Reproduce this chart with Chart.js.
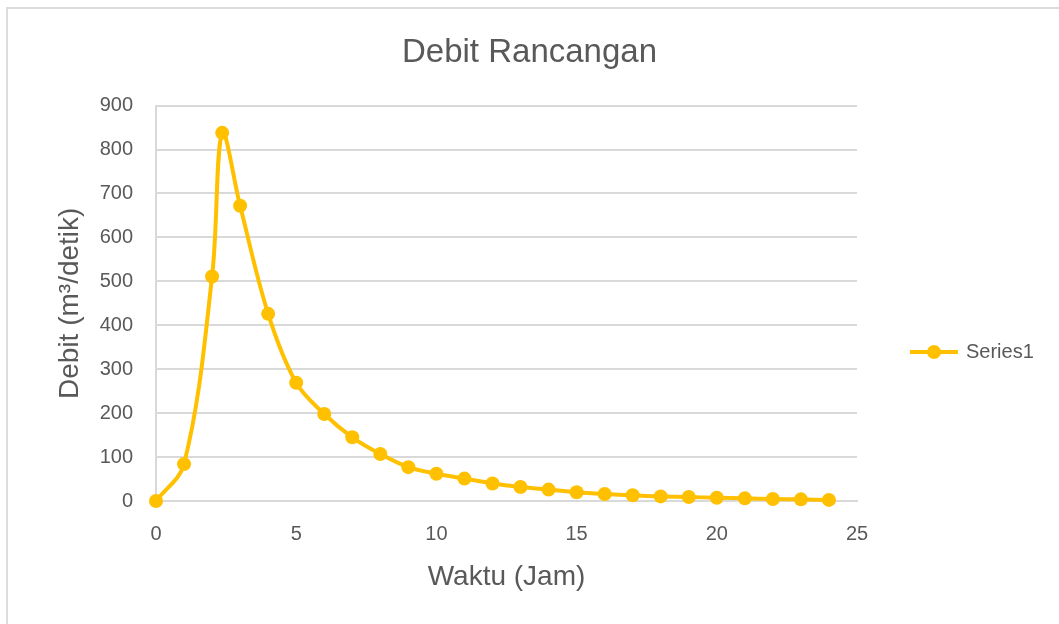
<!DOCTYPE html>
<html>
<head>
<meta charset="utf-8">
<script src="https://cdn.jsdelivr.net/npm/chart.js@4/dist/chart.umd.min.js"></script>
<style>
html,body{margin:0;padding:0;background:#fff;overflow:hidden;}
canvas{display:block;}
</style>
</head>
<body>
<canvas id="c" width="1059" height="624"></canvas>
<script>
// Data
const waktu = [0, 1, 2, 2.36, 3, 4, 5, 6, 7, 8, 9, 10, 11, 12, 13, 14, 15, 16, 17, 18, 19, 20, 21, 22, 23, 24];
const debit = [0, 84, 511, 838, 672, 426, 269, 198, 145, 107, 77, 62, 51, 40, 32, 26, 20, 16, 13, 10.5, 9, 7.5, 6, 4.5, 3.7, 2.5];
const seriesName = 'Series1';
const chartTitle = 'Debit Rancangan';
const xTitle = 'Waktu (Jam)';
const yTitle = 'Debit (m³/detik)';

const FONT = '"Liberation Sans", Arial, sans-serif';
const TEXT = '#595959';
const GRID = '#d9d9d9';
const LINE = '#FFC000';

const frameAndLegend = {
  id: 'frameAndLegend',
  beforeDraw(chart) {
    const ctx = chart.ctx;
    ctx.save();
    ctx.fillStyle = '#fff';
    ctx.fillRect(0, 0, chart.width, chart.height);
    ctx.strokeStyle = '#dcdcdc';
    ctx.lineWidth = 2;
    ctx.strokeRect(7, 8, 2000, 2000);
    ctx.restore();
  },
  afterDraw(chart) {
    const ctx = chart.ctx;
    const ds = chart.data.datasets[0];
    const y = 352;
    ctx.save();
    ctx.strokeStyle = ds.borderColor;
    ctx.lineWidth = ds.borderWidth;
    ctx.beginPath();
    ctx.moveTo(910, y);
    ctx.lineTo(958, y);
    ctx.stroke();
    ctx.fillStyle = ds.pointBackgroundColor;
    ctx.beginPath();
    ctx.arc(934, y, ds.pointRadius, 0, Math.PI * 2);
    ctx.fill();
    ctx.fillStyle = TEXT;
    ctx.font = '20px ' + FONT;
    ctx.textBaseline = 'middle';
    ctx.textAlign = 'left';
    ctx.fillText(ds.label, 966, y);
    ctx.restore();
  }
};

const points = waktu.map((x, i) => ({x: x, y: debit[i]}));

new Chart(document.getElementById('c'), {
  type: 'line',
  data: {
    datasets: [{
      label: seriesName,
      data: points,
      borderColor: LINE,
      backgroundColor: LINE,
      pointBackgroundColor: LINE,
      pointBorderColor: LINE,
      borderWidth: 4,
      pointRadius: 7,
      pointBorderWidth: 0,
      tension: 0.35,
      fill: false,
      clip: false
    }]
  },
  options: {
    responsive: false,
    devicePixelRatio: 1,
    animation: false,
    layout: {padding: {left: 0, right: 0, top: 0, bottom: 0}},
    plugins: {
      legend: {display: false},
      tooltip: {enabled: false},
      title: {
        display: true,
        text: chartTitle,
        color: TEXT,
        font: {family: FONT, size: 33, weight: 'normal', lineHeight: 1.2},
        padding: {top: 33, bottom: 33}
      }
    },
    scales: {
      x: {
        type: 'linear',
        min: 0,
        max: 25,
        ticks: {stepSize: 5, color: TEXT, font: {family: FONT, size: 20}, padding: 21, maxRotation: 0},
        grid: {display: false, drawTicks: false},
        border: {display: true, color: GRID, width: 2},
        title: {display: true, text: xTitle, color: TEXT, font: {family: FONT, size: 28, lineHeight: 1.2}, padding: {top: 0, bottom: 30}},
        afterFit(s) { s.height = 123; }
      },
      y: {
        min: 0,
        max: 900,
        ticks: {stepSize: 100, color: TEXT, font: {family: FONT, size: 20}, padding: 23},
        grid: {color: GRID, lineWidth: 2, drawTicks: false},
        border: {display: true, color: GRID, width: 2},
        title: {display: true, text: yTitle, color: TEXT, font: {family: FONT, size: 28, lineHeight: 1.2}, padding: {top: 53, bottom: 0}},
        afterFit(s) { s.width = 156; }
      },
      legendSpace: {
        position: 'right',
        min: 0,
        max: 900,
        ticks: {display: false},
        grid: {display: false, drawTicks: false},
        border: {display: false},
        afterFit(s) { s.width = 202; }
      }
    }
  },
  plugins: [frameAndLegend]
});
</script>
</body>
</html>
